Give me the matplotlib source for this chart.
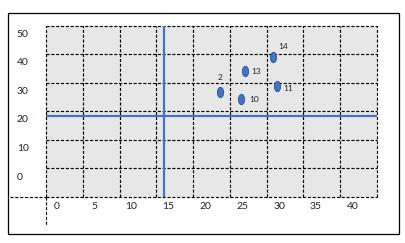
import numpy as np
import matplotlib
matplotlib.use("Agg")
import matplotlib.pyplot as plt
from matplotlib.path import Path
from matplotlib.transforms import Affine2D
from matplotlib.lines import Line2D
from matplotlib.patches import Rectangle

# data
point_ids = ["2", "10", "13", "14", "11"]
x_vals = [22.0, 24.9, 25.4, 29.2, 29.7]
y_vals = [29.4, 26.9, 36.7, 41.6, 31.5]
x_ref = 14.4
y_ref = 21.0
x_ticks = [0, 5, 10, 15, 20, 25, 30, 35, 40]
y_ticks = [0, 10, 20, 30, 40, 50]

# label offsets in points (ha, dx, dy)
label_pos = {
    "2": ("center", 0.0, 10.5),
    "10": ("left", 5.8, 0.0),
    "13": ("left", 4.3, 0.0),
    "14": ("left", 3.6, 7.9),
    "11": ("left", 4.3, -2.2),
}

BLUE = "#4472C4"
DASH = (0, (2.6, 1.5))
plt.rcParams["font.family"] = ["Lato", "DejaVu Sans"]

W, H = 405, 243
fig = plt.figure(figsize=(W / 100, H / 100), dpi=100)
fig.patch.set_facecolor("white")

left, right, top, bottom = 46, 377, 26, 197
ax = fig.add_axes([left / W, 1 - bottom / H, (right - left) / W, (bottom - top) / H])
ax.set_facecolor("#E7E7E7")

xlim = (-1.49, 43.24)
ylim = (-7.34, 52.45)
ax.set_xlim(*xlim)
ax.set_ylim(*ylim)

# dashed grid, independent of label positions
ax.set_xticks(np.linspace(xlim[0], xlim[1], 10), minor=True)
ax.set_yticks(np.linspace(ylim[0], ylim[1], 7), minor=True)
ax.grid(which="minor", color="black", linestyle=DASH, linewidth=0.85)
ax.grid(which="major", visible=False)
for t in ax.xaxis.get_minor_ticks() + ax.yaxis.get_minor_ticks():
    t.gridline.set_clip_on(False)
for s in ax.spines.values():
    s.set_visible(False)

ax.set_xticks(x_ticks)
ax.set_yticks(y_ticks)
ax.tick_params(which="both", length=0)
ax.tick_params(axis="x", pad=3.5, labelsize=7.5, labelcolor="#222222")
ax.tick_params(axis="y", pad=21, labelsize=7.5, labelcolor="#222222")
for lab in ax.get_yticklabels():
    lab.set_horizontalalignment("left")

ax.axvline(x_ref, color=BLUE, linewidth=1.6, zorder=3)
ax.axhline(y_ref, color=BLUE, linewidth=1.6, zorder=3)

ellipse = Path.unit_circle().transformed(Affine2D().scale(0.6, 1.0))
ax.plot(x_vals, y_vals, linestyle="none", marker=ellipse, markersize=7.5,
        markerfacecolor=BLUE, markeredgecolor="#2F528F", markeredgewidth=0.6,
        zorder=4)

for pid, xv, yv in zip(point_ids, x_vals, y_vals):
    ha, dx, dy = label_pos[pid]
    ax.annotate(pid, (xv, yv), xytext=(dx, dy), textcoords="offset points",
                ha=ha, va="center", fontsize=6, color="#222222", zorder=5)

# dashed extensions of the axes outside the plot area
fig.add_artist(Line2D([10 / W, left / W], [1 - bottom / H, 1 - bottom / H],
                      color="black", linestyle=DASH, linewidth=0.85))
fig.add_artist(Line2D([left / W, left / W], [1 - bottom / H, 1 - 225 / H],
                      color="black", linestyle=DASH, linewidth=0.85))

# outer frame
fig.add_artist(Rectangle((7.5 / W, 1 - 234 / H), (398.5 - 7.5) / W, (234 - 13.5) / H,
                         fill=False, edgecolor="black", linewidth=0.9))

fig.savefig("out.png", dpi=100)
